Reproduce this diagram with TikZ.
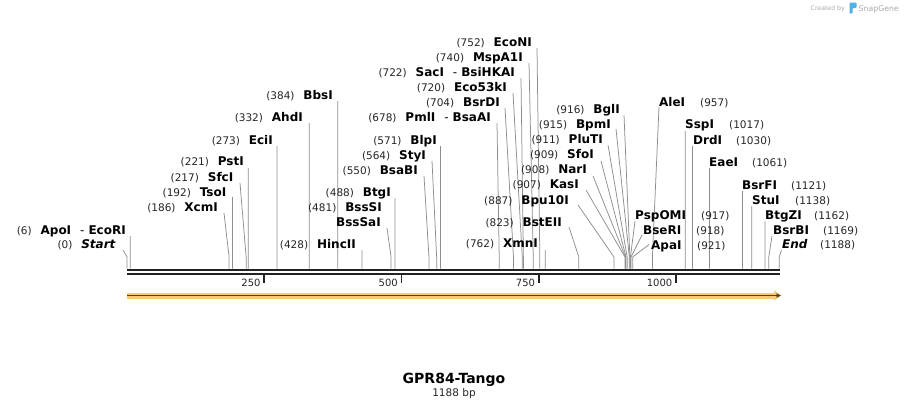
\documentclass[tikz,border=0pt]{standalone}
\usepackage{fontspec}
\setmainfont{DejaVu Sans}
\usetikzlibrary{arrows.meta}
\definecolor{cutgray}{HTML}{8E8E8E}
\definecolor{axisdark}{HTML}{222222}
\definecolor{bandorange}{HTML}{F9C873}
\definecolor{banddark}{HTML}{4F3E22}
\definecolor{sgblue}{HTML}{4DB3E6}
\definecolor{sggray}{HTML}{AAAAAA}
\tikzset{
  enz/.style={inner sep=0pt, text=black, font=\fontsize{12}{14}\selectfont\bfseries},
  enznum/.style={inner sep=0pt, text=black!85, font=\fontsize{10.5}{12}\selectfont},
  cutline/.style={draw=cutgray, line width=0.75pt},
  axisline/.style={draw=axisdark},
  tickmark/.style={draw=axisdark, line width=1.8pt},
  ticklabel/.style={inner sep=0pt, text=black!85, font=\fontsize{10}{12}\selectfont},
}
% left-side label: id, number, name, name-end x, y, line top, position
\newcommand\enzL[7]{%
  \node[enz, anchor=base east] (#1) at (#4,#5+4.3) {#3};
  \node[enznum, anchor=base east] (#1-n) at ([xshift=-8.5pt]#1.base west) {(#2)};
  \coordinate (#1-t) at (#6);
  \coordinate (#1-k) at ({127+0.549*#7},257);
  \coordinate (#1-c) at ({127+0.549*#7},268.5);
  \draw[cutline] (#1-t) -- (#1-k) -- (#1-c);
}
% right-side label: id, number, name, name-start x, y, number-start x, line top, position
\newcommand\enzR[8]{%
  \node[enz, anchor=base west] (#1) at (#4,#5+4.3) {#3};
  \node[enznum, anchor=base west] (#1-n) at (#6,#5+4.3) {(#2)};
  \coordinate (#1-t) at (#7);
  \coordinate (#1-k) at ({127+0.549*#8},257);
  \coordinate (#1-c) at ({127+0.549*#8},268.5);
  \draw[cutline] (#1-t) -- (#1-k) -- (#1-c);
}
\begin{document}
\begin{tikzpicture}[x=1pt,y=-1pt]
\useasboundingbox[fill=white] (0,0) rectangle (908,408);

% SnapGene credit
\node[font=\fontsize{6.2}{7}\selectfont, text=sggray, anchor=base west, inner sep=0pt] (cby) at (810.5,10) {Created by};
\fill[sgblue, rounded corners=0.8pt] (849.5,2.5) -- (856.5,2.5) -- (856.5,8) -- (852.5,8) -- (852.5,13.5) -- (849.5,13.5) -- cycle;
\node[font=\fontsize{7.8}{9}\selectfont, text=sggray, anchor=base west, inner sep=0pt] (sg) at (858.5,11) {SnapGene};

% left-side enzymes
\enzL{ecori}{6}{ApoI\hspace{9pt}{\mdseries -}\hspace{4pt}EcoRI}{126}{230}{130.29,236}{6}
\enzL{start}{0}{\textit{Start}}{116}{244.3}{123,250}{0}
\enzL{xcmi}{186}{XcmI}{218}{207}{224,213}{186}
\enzL{tsoi}{192}{TsoI}{226.5}{192}{232.41,197}{192}
\enzL{sfci}{217}{SfcI}{233.5}{176.7}{240,183}{217}
\enzL{psti}{221}{PstI}{244}{161.5}{248.33,168}{221}
\enzL{ecii}{273}{EciI}{273}{140}{276.88,146}{273}
\enzL{ahdi}{332}{AhdI}{303}{116.7}{309.27,123}{332}
\enzL{bbsi}{384}{BbsI}{333}{95.5}{337.82,101}{384}
\enzL{hincii}{428}{HincII}{356}{244.5}{361.97,250}{428}
\enzL{btgi}{488}{BtgI}{391}{192}{394.91,198}{488}
\node[enz, anchor=base east] (bsssi) at (382,207+4.3) {BssSI};
\node[enznum, anchor=base east] (bsssi-n) at ([xshift=-8.5pt]bsssi.base west) {(481)};
\node[enz, anchor=base east] (bsssai) at (381,222+4.3) {BssSaI};
\coordinate (bsssai-t) at (387,228);
\coordinate (bsssai-k) at ({127+0.549*481},257);
\coordinate (bsssai-c) at ({127+0.549*481},268.5);
\draw[cutline] (bsssai-t) -- (bsssai-k) -- (bsssai-c);
\enzL{bsabi}{550}{BsaBI}{418}{170}{424,176}{550}
\enzL{styi}{564}{StyI}{426}{155}{432,161}{564}
\enzL{blpi}{571}{BlpI}{437}{140}{440.48,146}{571}
\enzL{pmli}{678}{PmlI\hspace{9pt}{\mdseries -}\hspace{4pt}BsaAI}{491}{117}{497,123}{678}
\enzL{bsrdi}{704}{BsrDI}{500}{102}{505,108}{704}
\enzL{ecoftyk}{720}{Eco53kI}{507}{87}{513,93}{720}
\enzL{saci}{722}{SacI\hspace{9pt}{\mdseries -}\hspace{4pt}BsiHKAI}{515}{72}{521,78}{722}
\enzL{mspai}{740}{MspA1I}{523}{57}{529,63}{740}
\enzL{econi}{752}{EcoNI}{532}{42}{537,48}{752}
\enzL{xmni}{762}{XmnI}{538}{243.5}{545.34,250}{762}
\enzL{bsteii}{823}{BstEII}{562}{222}{569,227}{823}
\enzL{bputeni}{887}{Bpu10I}{569}{200}{578,205}{887}
\enzL{kasi}{907}{KasI}{579}{184.5}{586,190}{907}
\enzL{nari}{908}{NarI}{587}{169.5}{593,176}{908}
\enzL{sfoi}{909}{SfoI}{594}{154.5}{601,161}{909}
\enzL{pluti}{911}{PluTI}{603}{139.5}{608,145}{911}
\enzL{bpmi}{915}{BpmI}{611}{124.5}{616,129}{915}
\enzL{bgli}{916}{BglI}{620}{109.5}{624,115}{916}

% right-side enzymes
\enzR{alei}{957}{AleI}{659}{102.3}{700}{659,107}{957}
\enzR{sspi}{1017}{SspI}{685}{124.3}{729}{685.33,131}{1017}
\enzR{drdi}{1030}{DrdI}{693}{140}{736}{692.47,146}{1030}
\enzR{eaei}{1061}{EaeI}{709}{162.3}{752}{709.49,168}{1061}
\enzR{bsrfi}{1121}{BsrFI}{742}{185}{791}{742.43,191}{1121}
\enzR{stui}{1138}{StuI}{752}{200}{795}{751.76,206}{1138}
\enzR{btgzi}{1162}{BtgZI}{765}{215.3}{814}{764.94,221}{1162}
\enzR{bsrbi}{1169}{BsrBI}{773}{230}{823}{772,236}{1169}
\enzR{endsite}{1188}{\textit{End}}{782}{244.3}{820}{781.5,250}{1188}
\enzR{pspomi}{917}{PspOMI}{635}{215}{701}{635,221}{917}
\enzR{bseri}{918}{BseRI}{643}{230}{696}{642,235}{918}
\enzR{apai}{921}{ApaI}{651}{245}{697}{649,244.5}{921}

% sequence axis (double line)
\coordinate (axL1) at (127,270);
\coordinate (axR1) at (779.5,270);
\coordinate (axL2) at (127,274.2);
\coordinate (axR2) at (779.5,274.2);
\draw[axisline, line width=2.7pt] (axL1) -- (axR1);
\draw[axisline, line width=2.3pt] (axL2) -- (axR2);

% ticks
\foreach \p/\nm in {250/ta,500/tb,750/tc,1000/td}{
  \coordinate (\nm-a) at ({127+0.549*\p},275);
  \coordinate (\nm-b) at ({127+0.549*\p},283);
  \draw[tickmark] (\nm-a) -- (\nm-b);
  \node[ticklabel, anchor=base east] (\nm-l) at ({127+0.549*\p-3.5},286) {\p};
}

% feature arrow
\coordinate (fa) at (127,295.5);
\coordinate (fb) at (774,295.5);
\coordinate (fc) at (781,295.5);
\draw[draw=bandorange, line width=6pt] (fa) -- (fb);
\fill[bandorange] (774,290.5) -- (781.5,295.5) -- (774,300.5) -- cycle;
\draw[draw=banddark, line width=1.3pt, -{Latex[length=4.5pt,width=5pt]}] (fa) -- (fc);

% title
\node[inner sep=0pt, anchor=base, font=\fontsize{14}{16}\selectfont\bfseries] (title) at (454,383) {GPR84-Tango};
\node[inner sep=0pt, anchor=base, text=black!85, font=\fontsize{10.5}{12}\selectfont] (len) at (454,396) {1188 bp};
\end{tikzpicture}
\end{document}
